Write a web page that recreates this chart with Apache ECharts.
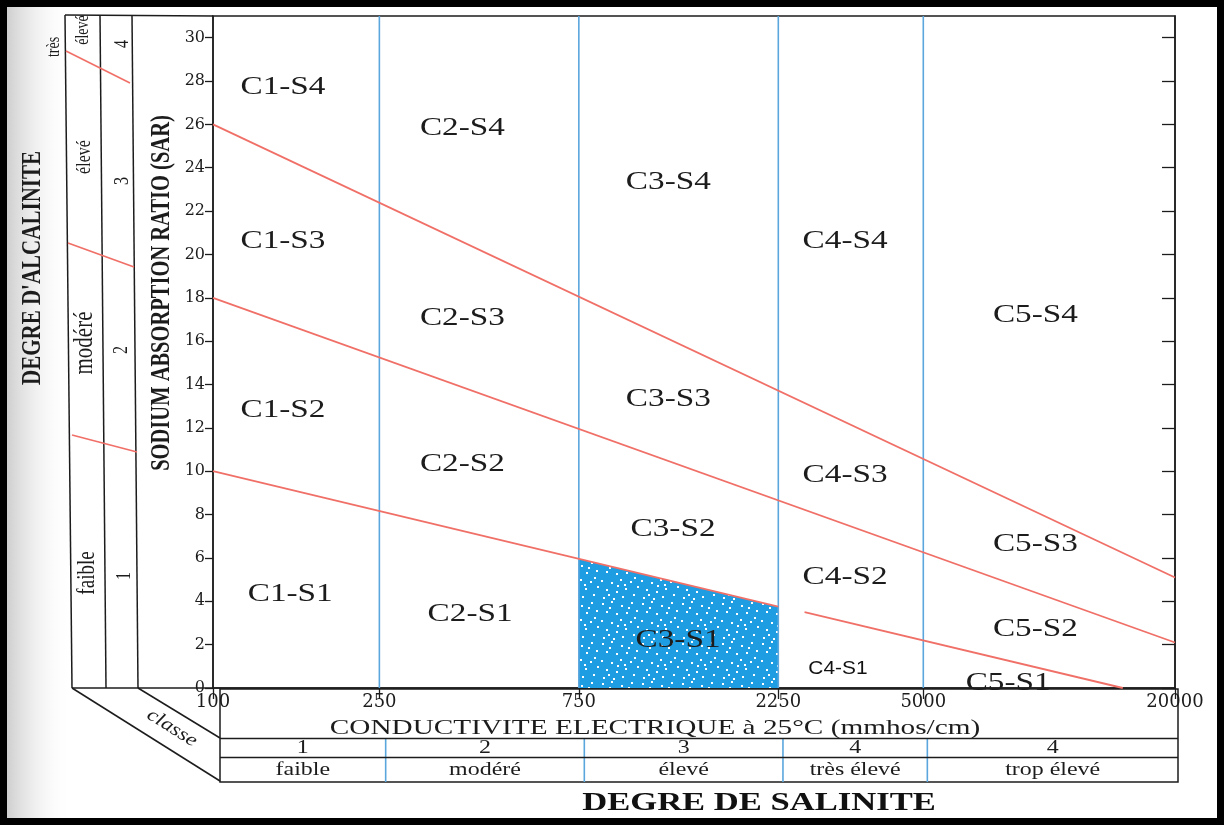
<!DOCTYPE html>
<html>
<head>
<meta charset="utf-8">
<script src="https://cdn.jsdelivr.net/npm/echarts@6/dist/echarts.min.js"></script>
<style>
html, body { margin: 0; padding: 0; background: #fff; }
#chart { width: 1224px; height: 825px; }
</style>
</head>
<body>
<div id="chart"></div>
<script>
// axis ticks
const ecTicks = [100, 250, 750, 2250, 5000, 20000];
const sarTicks = [0, 2, 4, 6, 8, 10, 12, 14, 16, 18, 20, 22, 24, 26, 28, 30];

// salinity classes (EC boundaries) and table texts
const classBounds = [250, 750, 2250, 5000];
const classEdges = [100, 250, 750, 2250, 5000, 20000];
const classNums = ['1', '2', '3', '4', '4'];
const classNames = ['faible', 'modéré', 'élevé', 'très élevé', 'trop élevé'];

// SAR hazard lines [EC, SAR]
const lineS1S2a = [[100, 10], [2250, 3.75]];
const lineS1S2b = [[2600, 3.5], [15000, 0]];
const lineS2S3 = [[100, 18], [20000, 2.1]];
const lineS3S4 = [[100, 26], [20000, 5.1]];
// highlighted C3-S1 zone (top edge)
const c3s1Area = [[750, 5.96], [2250, 3.75]];

// zone labels
const zoneNames = ['C1-S4', 'C2-S4', 'C3-S4', 'C4-S4', 'C5-S4',
                   'C1-S3', 'C2-S3', 'C3-S3', 'C4-S3', 'C5-S3',
                   'C1-S2', 'C2-S2', 'C3-S2', 'C4-S2', 'C5-S2',
                   'C1-S1', 'C2-S1', 'C3-S1', 'C4-S1', 'C5-S1'];
const zoneEC = [147, 395, 1228, 3250, 9270,
                147, 395, 1228, 3250, 9270,
                147, 395, 1260, 3250, 9270,
                153, 412, 1295, 3125, 7980];
const zoneSAR = [27.7, 25.8, 23.3, 20.6, 17.2,
                 20.6, 17.05, 13.3, 9.8, 6.6,
                 12.8, 10.3, 7.3, 5.1, 2.7,
                 4.3, 3.4, 2.2, 0.9, 0.2];

const serif = '"Liberation Serif", "DejaVu Serif", serif';
const wideSerif = '"DejaVu Serif", serif';
const RED = '#f07068';
const BLUE = '#5aa6dd';
const INK = '#1c1c1c';
const STRETCH = 1.33; // the scan is stretched horizontally

// speckled blue fill
function speckleTile() {
   const c = document.createElement('canvas');
   c.width = 40; c.height = 40;
   const g = c.getContext('2d');
   g.fillStyle = '#1e9de2';
   g.fillRect(0, 0, 40, 40);
   g.fillStyle = '#ffffff';
   const dots = [[2, 3], [11, 1], [21, 5], [31, 2], [36, 10], [6, 11], [16, 13], [26, 12],
                 [1, 20], [11, 22], [20, 19], [30, 21], [37, 26], [6, 29], [16, 31],
                 [25, 28], [33, 34], [3, 37], [13, 38], [22, 36], [28, 7], [17, 25],
                 [9, 7], [34, 17], [24, 24], [8, 34]];
   dots.forEach(([x, y]) => g.fillRect(x, y, 2, 2));
   return c;
}

const chart = echarts.init(document.getElementById('chart'));

const vLines = classBounds.map((b) => ({
   type: 'line', xAxisIndex: 0, yAxisIndex: 0, silent: true, symbol: 'none', z: 3,
   lineStyle: { color: BLUE, width: 1.6 },
   data: [[b, 0], [b, 31]]
}));
const tableLines = classBounds.map((b) => ({
   type: 'line', xAxisIndex: 1, yAxisIndex: 2, silent: true, symbol: 'none', z: 3,
   lineStyle: { color: BLUE, width: 1.6 },
   data: [[b, 0], [b, 44]]
}));
const redLine = (data) => ({
   type: 'line', xAxisIndex: 0, yAxisIndex: 0, silent: true, symbol: 'none', z: 4,
   lineStyle: { color: RED, width: 1.8 },
   data
});
const classCenter = (i) => Math.sqrt(classEdges[i] * classEdges[i + 1]);

// text placed through the axes, widened like the scan
const textSeries = (xi, yi, data, texts, fontOf) => ({
   type: 'custom', xAxisIndex: xi, yAxisIndex: yi, silent: true, z: 6,
   data,
   renderItem: (params, api) => {
      const p = api.coord([api.value(0), api.value(1)]);
      const t = texts[params.dataIndex];
      const f = fontOf(t);
      return {
         type: 'text', x: p[0], y: p[1], scaleX: f.scale,
         style: { text: t, font: f.font, fill: f.fill, align: 'center', verticalAlign: 'middle' }
      };
   }
});

const tableTexts = classNums.concat(classNames);
const tablePts = classNums.map((t, i) => [classCenter(i), 34])
   .concat(classNames.map((t, i) => [classCenter(i), 12]));

const vText = (x, y, text, font) => ({
   type: 'text', x, y, rotation: Math.PI / 2, scaleY: STRETCH, silent: true,
   style: { text, font, fill: INK, align: 'center', verticalAlign: 'middle' }
});
const frameLine = (x1, y1, x2, y2, color) => ({
   type: 'line', silent: true, shape: { x1, y1, x2, y2 },
   style: { stroke: color || INK, lineWidth: color ? 1.8 : 1.5 }
});

const option = {
   backgroundColor: '#fff',
   animation: false,
   grid: [
      { left: 213, top: 16, right: 49, bottom: 137, show: true, borderColor: INK, borderWidth: 1.5 },
      { left: 220, top: 689, right: 46, height: 93, show: true, borderColor: INK, borderWidth: 1.5 }
   ],
   xAxis: [
      {
         gridIndex: 0, type: 'log', logBase: 10, min: 100, max: 20000,
         axisLine: { show: true, lineStyle: { color: INK, width: 1.5 } },
         axisTick: { show: true, customValues: ecTicks, length: 11, lineStyle: { color: INK, width: 1.3 } },
         axisLabel: {
            customValues: ecTicks, margin: 5, fontFamily: wideSerif, fontSize: 18, color: INK,
            formatter: (v) => String(Math.round(v))
         },
         splitLine: { show: false }, minorTick: { show: false }
      },
      { gridIndex: 1, type: 'log', logBase: 10, min: 100, max: 20000, show: false }
   ],
   yAxis: [
      {
         gridIndex: 0, type: 'value', min: 0, max: 31,
         axisLine: { show: true, lineStyle: { color: INK, width: 1.5 } },
         axisTick: { show: true, customValues: sarTicks, length: 8, lineStyle: { color: INK, width: 1.3 } },
         axisLabel: { customValues: sarTicks, margin: 8, fontFamily: wideSerif, fontSize: 16, color: INK },
         splitLine: { show: false }
      },
      {
         gridIndex: 0, type: 'value', min: 0, max: 31, position: 'right',
         axisLine: { show: true, lineStyle: { color: INK, width: 1.5 } },
         axisTick: { show: true, inside: true, customValues: sarTicks, length: 13, lineStyle: { color: INK, width: 1.3 } },
         axisLabel: { show: false },
         splitLine: { show: false }
      },
      { gridIndex: 1, type: 'value', min: 0, max: 93, show: false }
   ],
   series: [
      ...vLines,
      ...tableLines,
      {
         type: 'line', xAxisIndex: 0, yAxisIndex: 0, silent: true, symbol: 'none', z: 2,
         lineStyle: { width: 0 },
         areaStyle: { color: { image: speckleTile(), repeat: 'repeat' }, opacity: 1 },
         data: c3s1Area
      },
      redLine(lineS1S2a),
      redLine(lineS1S2b),
      redLine(lineS2S3),
      redLine(lineS3S4),
      {
         // table row separators
         type: 'line', xAxisIndex: 1, yAxisIndex: 2, silent: true, symbol: 'none', data: [],
         markLine: {
            silent: true, symbol: 'none', label: { show: false },
            lineStyle: { color: INK, type: 'solid', width: 1.3 },
            data: [{ yAxis: 44 }, { yAxis: 25 }]
         }
      },
      textSeries(0, 0, zoneEC.map((x, i) => [x, zoneSAR[i]]), zoneNames, (t) => (
         t === 'C4-S1'
            ? { font: '19px "Liberation Sans", Carlito, sans-serif', scale: 1.1, fill: '#111' }
            : { font: '25px ' + serif, scale: STRETCH, fill: INK }
      )),
      textSeries(1, 2, tablePts, tableTexts, () => ({ font: '18px ' + serif, scale: STRETCH, fill: INK }))
   ],
   graphic: [
      {
         type: 'rect', z: -10, silent: true,
         shape: { x: 6, y: 6, width: 66, height: 813 },
         style: {
            fill: new echarts.graphic.LinearGradient(0, 0, 1, 0, [
               { offset: 0, color: '#cdcdcd' }, { offset: 1, color: 'rgba(255,255,255,0)' }
            ])
         }
      },
      // side (alkalinity) panel frame
      frameLine(65, 15, 213, 16),
      frameLine(65, 15, 72, 688),
      frameLine(100, 15, 106, 688),
      frameLine(132, 15, 138, 688),
      frameLine(72, 688, 213, 688),
      frameLine(72, 688, 220, 781),
      frameLine(138, 688, 220, 738),
      frameLine(66, 51, 130, 83, RED),
      frameLine(68, 243, 134, 267, RED),
      frameLine(72, 435, 137, 452, RED),
      // side panel texts
      vText(54, 47, 'très', '14px ' + serif),
      vText(83, 30, 'élevé', '14px ' + serif),
      vText(122, 44, '4', '16px ' + serif),
      vText(84, 157, 'élevé', '16px ' + serif),
      vText(122, 181, '3', '16px ' + serif),
      vText(85, 343, 'modéré', '21px ' + serif),
      vText(121, 350, '2', '16px ' + serif),
      vText(87, 573, 'faible', '19px ' + serif),
      vText(124, 576, '1', '16px ' + serif),
      {
         type: 'text', x: 172, y: 728, rotation: -0.56, scaleX: 1.2, silent: true,
         style: { text: 'classe', font: 'italic 19px ' + serif, fill: INK, align: 'center', verticalAlign: 'middle' }
      },
      // axis titles
      vText(33, 268, "DEGRE D'ALCALINITE", 'bold 21px ' + serif),
      vText(162, 293, 'SODIUM ABSORPTION RATIO (SAR)', 'bold 20.5px ' + serif),
      {
         type: 'text', x: 655, y: 728, scaleX: STRETCH, silent: true,
         style: { text: 'CONDUCTIVITE ELECTRIQUE à 25°C (mmhos/cm)', font: '22px ' + serif, fill: INK, align: 'center', verticalAlign: 'middle' }
      },
      {
         type: 'text', x: 759, y: 803, scaleX: STRETCH, silent: true,
         style: { text: 'DEGRE DE SALINITE', font: 'bold 26px ' + serif, fill: '#111', align: 'center', verticalAlign: 'middle' }
      },
      // scan frame
      {
         type: 'rect', z: 100, silent: true,
         shape: { x: 0, y: 0, width: 1224, height: 825 },
         style: { fill: null, stroke: '#000', lineWidth: 14 }
      }
   ]
};
chart.setOption(option);
</script>
</body>
</html>
